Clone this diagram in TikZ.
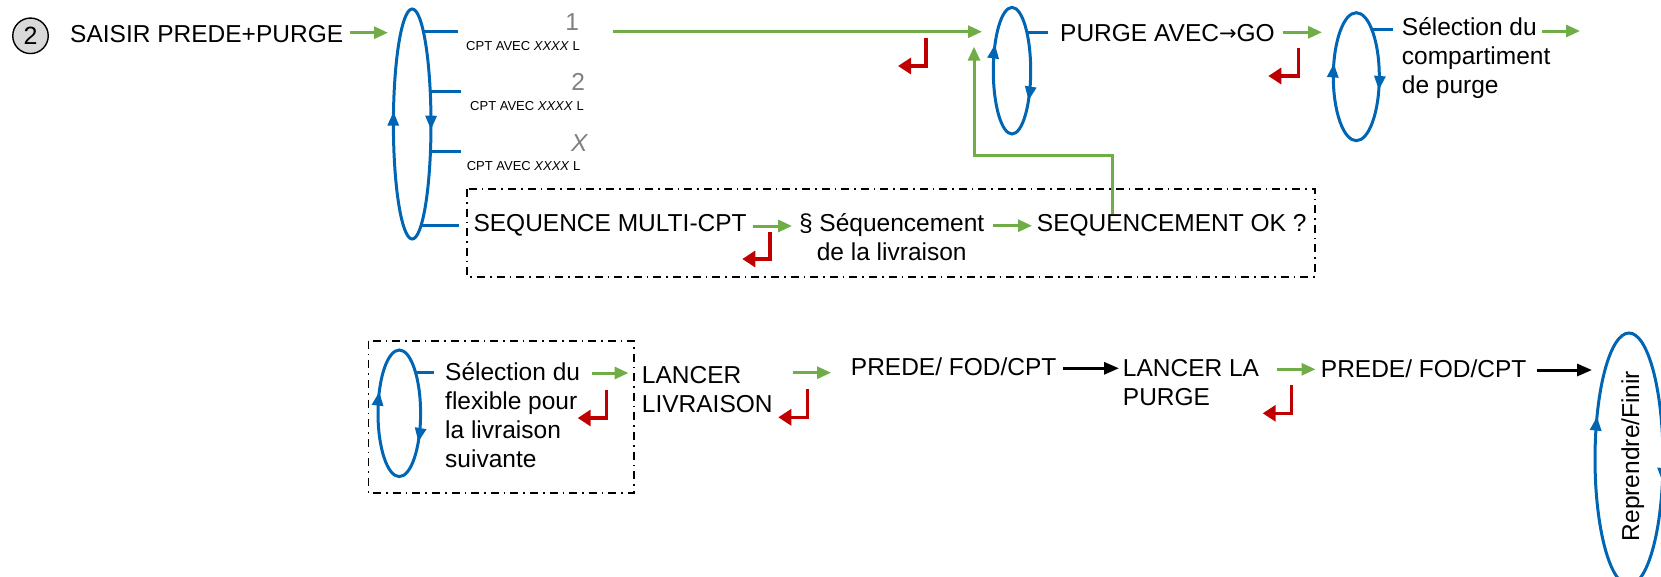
\documentclass[tikz,border=0pt]{standalone}
\usepackage{fontspec}
\setmainfont{Liberation Sans}
\newfontfamily\dejavu{DejaVu Sans}
\usetikzlibrary{arrows.meta,decorations.markings}
\definecolor{bl}{RGB}{0,101,179}
\definecolor{gr}{RGB}{112,173,71}
\definecolor{rd}{RGB}{192,0,0}
\definecolor{gy}{RGB}{128,128,128}
\definecolor{cg}{RGB}{217,217,217}
\newcommand\mlines[1]{\begin{tabular}[t]{@{}l@{}}#1\end{tabular}}
\newcommand\clines[1]{\begin{tabular}[t]{@{}c@{}}#1\end{tabular}}
\newcommand\smallarrow{\raisebox{1.5pt}{\dejavu\fontsize{21}{24}\selectfont →}}
\tikzset{
  garrow/.style={draw=gr, line width=3pt, -{Triangle[length=14pt,width=12pt,color=gr]}},
  rarrow/.style={draw=rd, line width=3.2pt, -{Triangle[length=13pt,width=16pt,color=rd]}},
  karrow/.style={draw=black, line width=3pt, -{Triangle[length=15pt,width=12pt]}},
  gline/.style={draw=gr, line width=3pt},
  loopell/.style={color=bl, line width=3pt},
  stub/.style={draw=bl, line width=3pt},
  frame/.style={draw=black, line width=1.6pt, dash pattern=on 8pt off 5pt on 1.6pt off 5pt},
  txt/.style={inner sep=0pt, font=\fontsize{24.5}{29}\selectfont, anchor=base west},
  small/.style={inner sep=0pt, font=\fontsize{13}{15}\selectfont, anchor=base west},
  num/.style={inner sep=0pt, font=\fontsize{24.5}{29}\selectfont, text=gy, anchor=base east},
  loopmarks/.style 2 args={postaction={decorate, decoration={markings,
     mark=at position #1 with {\arrow{Triangle[length=14pt,width=11pt]}},
     mark=at position #2 with {\arrow{Triangle[length=14pt,width=11pt]}}}}}
}
\begin{document}
\begin{tikzpicture}[x=1pt,y=-1pt]
\useasboundingbox (0,0) rectangle (1661,576);

% ---------- top row ----------
\node[circle, draw, line width=1.4pt, fill=cg, minimum size=35.5pt, inner sep=0pt,
      font=\fontsize{25}{29}\selectfont] (n2) at (30.5,35.8) {2};
\node[txt] (saisir) at (70,42.7) {SAISIR PREDE+PURGE};
\coordinate (a1s) at (350,32.7);
\coordinate (a1e) at (388,32.7);
\draw[garrow] (a1s) -- (a1e);

% big selection loop
\coordinate (e1) at (412.2,124);
\draw[loopell, loopmarks={0.012}{0.526}] (e1) ellipse [x radius=18.8, y radius=115];
\coordinate (b1s) at (423.2,31.7);  \coordinate (b1e) at (457.5,31.7);
\coordinate (b2s) at (430.2,91);    \coordinate (b2e) at (460.7,91);
\coordinate (b3s) at (430.4,151.7); \coordinate (b3e) at (460.7,151.7);
\coordinate (b4s) at (421.2,225);   \coordinate (b4e) at (458.7,225);
\draw[stub] (b1s) -- (b1e);
\draw[stub] (b2s) -- (b2e);
\draw[stub] (b3s) -- (b3e);
\draw[stub] (b4s) -- (b4e);

\node[small] (c1) at (466,50) {CPT AVEC \textit{XXXX} L};
\node[num] (k1) at (579.3,30.7) {1};
\node[small] (c2) at (470,110) {CPT AVEC \textit{XXXX} L};
\node[num] (k2) at (585.2,90.7) {2};
\node[small] (c3) at (466.6,170.7) {CPT AVEC \textit{XXXX} L};
\node[num] (k3) at (588.4,151.7) {\textit{X}};

\coordinate (l1s) at (613,31.7);
\coordinate (l1e) at (982,31.7);
\draw[garrow] (l1s) -- (l1e);
\coordinate (r1a) at (926,38); \coordinate (r1b) at (926,66); \coordinate (r1c) at (898,66);
\draw[rarrow] (r1a) -- (r1b) -- (r1c);

% loop 2
\coordinate (e2) at (1012,70.7);
\draw[loopell, loopmarks={0.108}{0.595}] (e2) ellipse [x radius=18.7, y radius=63.3];
\coordinate (s2s) at (1026.9,32.3); \coordinate (s2e) at (1048.3,32.3);
\draw[stub] (s2s) -- (s2e);
\node[txt] (purge) at (1060,41.7) {PURGE AVEC\smallarrow GO};
\coordinate (a2s) at (1283.3,32.3); \coordinate (a2e) at (1322,32.3);
\draw[garrow] (a2s) -- (a2e);
\coordinate (r2a) at (1298.3,48.3); \coordinate (r2b) at (1298.3,76); \coordinate (r2c) at (1268.3,76);
\draw[rarrow] (r2a) -- (r2b) -- (r2c);

% loop 3
\coordinate (e3) at (1356.3,76.7);
\draw[loopell, loopmarks={0.046}{0.546}] (e3) ellipse [x radius=23, y radius=64];
\coordinate (s3s) at (1371.8,29.3); \coordinate (s3e) at (1393.3,29.3);
\draw[stub] (s3s) -- (s3e);
\node[txt] (selc) at (1401.7,35.7) {\mlines{Sélection du\\compartiment\\de purge}};
\coordinate (a3s) at (1541.7,31); \coordinate (a3e) at (1580,31);
\draw[garrow] (a3s) -- (a3e);

% sequence frame
\draw[frame] (466.7,189) rectangle (1315,276.7);
\node[txt] (seqm) at (473.3,231.7) {SEQUENCE MULTI-CPT};
\coordinate (a4s) at (753.3,226); \coordinate (a4e) at (792,226);
\draw[garrow] (a4s) -- (a4e);
\coordinate (r4a) at (770,231.7); \coordinate (r4b) at (770,259); \coordinate (r4c) at (742.3,259);
\draw[rarrow] (r4a) -- (r4b) -- (r4c);
\node[inner sep=0pt, font=\fontsize{24.5}{29}\selectfont, anchor=base] (seqt) at (891.7,231.7)
  {\clines{§ Séquencement\\de la livraison}};
\coordinate (a5s) at (993.3,225.7); \coordinate (a5e) at (1032,225.7);
\draw[garrow] (a5s) -- (a5e);
\node[txt] (seqok) at (1036.7,231.7) {SEQUENCEMENT OK ?};
\coordinate (f1) at (1112.7,155); \coordinate (f2) at (974,155); \coordinate (f3) at (974,46.7);
\draw[gline, -{Triangle[length=14pt,width=12pt,color=gr]}] (seqok.north -| f1) -- (f1) -- (f2) -- (f3);

% ---------- bottom row ----------
\draw[frame] (368.3,340.7) rectangle (634,492.7);
\coordinate (e4) at (399.3,413.3);
\draw[loopell, loopmarks={0.102}{0.577}] (e4) ellipse [x radius=21.3, y radius=63.3];
\coordinate (s4s) at (415.6,372.7); \coordinate (s4e) at (434,372.7);
\draw[stub] (s4s) -- (s4e);
\node[txt] (self) at (445,380) {\mlines{Sélection du\\flexible pour\\la livraison\\suivante}};
\coordinate (a6s) at (591.7,373); \coordinate (a6e) at (628.5,373);
\draw[garrow] (a6s) -- (a6e);
\coordinate (r6a) at (606.7,390); \coordinate (r6b) at (606.7,418); \coordinate (r6c) at (577.7,418);
\draw[rarrow] (r6a) -- (r6b) -- (r6c);
\node[txt] (lancl) at (641.7,383.3) {\mlines{LANCER\\LIVRAISON}};
\coordinate (a7s) at (792.7,372.7); \coordinate (a7e) at (831,372.7);
\draw[garrow] (a7s) -- (a7e);
\coordinate (r7a) at (807.3,389.3); \coordinate (r7b) at (807.3,417.3); \coordinate (r7c) at (778.3,417.3);
\draw[rarrow] (r7a) -- (r7b) -- (r7c);
\node[txt] (pfc1) at (850.7,375.7) {PREDE/ FOD/CPT};
\coordinate (k8s) at (1063,368.3); \coordinate (k8e) at (1119,368.3);
\draw[karrow] (k8s) -- (k8e);
\node[txt] (lanp) at (1122.7,376) {\mlines{LANCER LA\\PURGE}};
\coordinate (a9s) at (1276.7,369.3); \coordinate (a9e) at (1315.5,369.3);
\draw[garrow] (a9s) -- (a9e);
\coordinate (r9a) at (1291.7,385); \coordinate (r9b) at (1291.7,413.3); \coordinate (r9c) at (1262.7,413.3);
\draw[rarrow] (r9a) -- (r9b) -- (r9c);
\node[txt] (pfc2) at (1320.7,377) {PREDE/ FOD/CPT};
\coordinate (k10s) at (1536.7,370); \coordinate (k10e) at (1592,370);
\draw[karrow] (k10s) -- (k10e);
\coordinate (e5) at (1629,459);
\draw[loopell, loopmarks={0.042}{0.578}] (e5) ellipse [x radius=34, y radius=126];
\node[inner sep=0pt, font=\fontsize{24.5}{29}\selectfont, rotate=90, anchor=base] (repr) at (1639,456) {Reprendre/Finir};
\end{tikzpicture}
\end{document}
